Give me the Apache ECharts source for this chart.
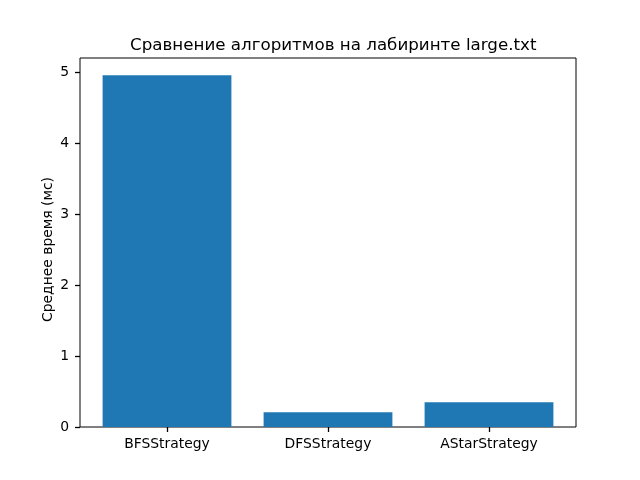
<!DOCTYPE html>
<html><head><meta charset="utf-8">
<script src="https://cdn.jsdelivr.net/npm/echarts@6/dist/echarts.min.js"></script>
<style>html,body{margin:0;padding:0;background:#fff}#c{width:640px;height:480px}</style>
</head><body><div id="c"></div>
<script>
const categories = ['BFSStrategy', 'DFSStrategy', 'AStarStrategy'];
const values = [4.953, 0.207, 0.348];
const yMin = 0, yMaxTick = 5, yStep = 1;

const chart = echarts.init(document.getElementById('c'));
const font = 'DejaVu Sans';
const tick = {show: true, inside: false, length: 5, lineStyle: {color: '#000', width: 1.3}};
chart.setOption({
  animation: false,
  title: {
    text: 'Сравнение алгоритмов на лабиринте large.txt',
    left: 125, top: 32,
    textStyle: {fontFamily: font, fontSize: 16.7, fontWeight: 'normal', color: '#000'}
  },
  grid: [
    {left: 86.5, top: 72, width: 483, height: 355, show: false},
    {left: 80, top: 58, width: 496, height: 369, show: true, borderColor: '#000', borderWidth: 1, backgroundColor: 'transparent'}
  ],
  xAxis: [{
    gridIndex: 0, type: 'category', data: categories, boundaryGap: true,
    splitLine: {show: false},
    axisLine: {show: false, onZero: false},
    axisTick: Object.assign({alignWithLabel: true}, tick),
    axisLabel: {color: '#000', fontFamily: font, fontSize: 13.9, margin: 10}
  }, {gridIndex: 1, type: 'value', show: false, min: 0, max: 1}],
  yAxis: [{
    gridIndex: 0, type: 'value', min: yMin, max: yMaxTick, interval: yStep, offset: 6.5,
    name: 'Среднее время (мс)', nameLocation: 'middle', nameGap: 25, nameMoveOverlap: false,
    nameTextStyle: {fontFamily: font, fontSize: 13.9, color: '#000'},
    splitLine: {show: false},
    axisLine: {show: false},
    axisTick: tick,
    axisLabel: {color: '#000', fontFamily: font, fontSize: 13.9, margin: 11}
  }, {gridIndex: 1, type: 'value', show: false, min: 0, max: 1}],
  series: [{
    type: 'bar', xAxisIndex: 0, yAxisIndex: 0,
    barWidth: '80%',
    itemStyle: {color: '#1f77b4'},
    data: values
  }]
});
</script></body></html>
